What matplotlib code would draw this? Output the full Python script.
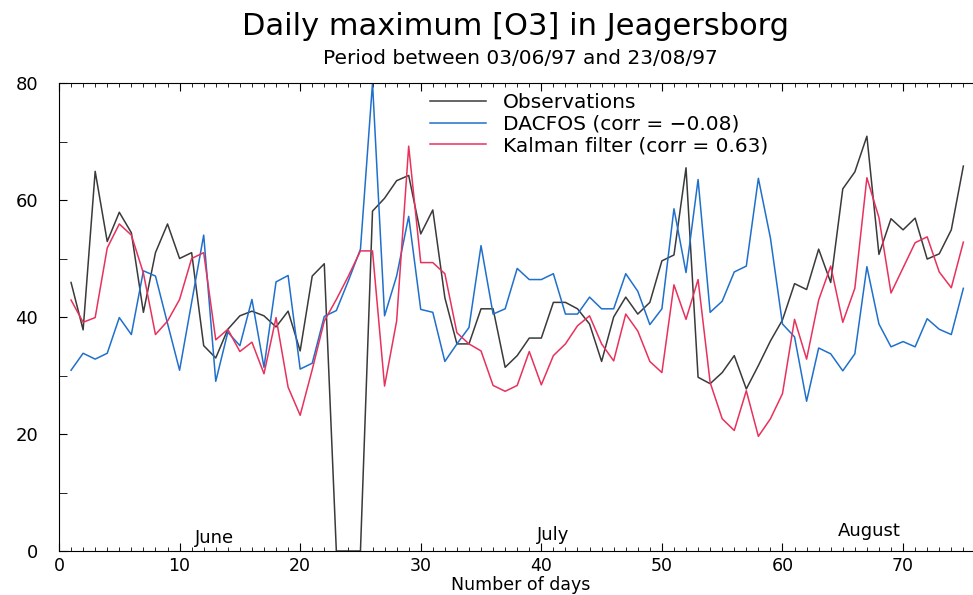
import numpy as np
import matplotlib.pyplot as plt
from matplotlib.ticker import MultipleLocator

plt.rcParams['font.family'] = ['DejaVu Sans']

# 数据 (days 1..75)
days = np.arange(1, 76)
obs = [45.9, 37.8, 64.9, 52.9, 57.9, 54.4, 40.8, 51.0, 55.9, 50.0,
       51.0, 35.1, 33.0, 37.9, 40.2, 41.0, 40.2, 38.3, 41.0, 34.2,
       47.0, 49.1, 0.0, 0.0, 0.0, 58.1, 60.3, 63.3, 64.2, 54.2,
       58.3, 43.3, 35.4, 35.4, 41.4, 41.4, 31.4, 33.4, 36.4, 36.4,
       42.5, 42.5, 41.4, 38.8, 32.4, 40.0, 43.4, 40.5, 42.5, 49.6,
       50.6, 65.5, 29.7, 28.6, 30.5, 33.4, 27.7, 31.7, 35.9, 39.5,
       45.7, 44.7, 51.6, 45.9, 61.9, 64.8, 70.9, 50.7, 56.8, 54.9,
       56.9, 49.9, 50.8, 54.9, 65.8]
dacfos = [30.9, 33.8, 32.8, 33.8, 39.9, 37.0, 47.9, 47.0, 38.9, 30.9,
          42.5, 54.0, 29.0, 37.4, 35.1, 43.0, 31.4, 46.0, 47.1, 31.1,
          32.1, 40.1, 41.1, 46.2, 51.6, 80.0, 40.2, 47.0, 57.2, 41.3,
          40.8, 32.4, 35.4, 38.2, 52.2, 40.5, 41.4, 48.3, 46.4, 46.4,
          47.4, 40.5, 40.5, 43.4, 41.4, 41.4, 47.4, 44.4, 38.7, 41.4,
          58.5, 47.6, 63.5, 40.8, 42.7, 47.7, 48.7, 63.7, 53.5, 38.8,
          36.6, 25.6, 34.7, 33.7, 30.8, 33.7, 48.6, 38.8, 34.9, 35.8,
          34.9, 39.7, 37.9, 37.0, 44.9]
kalman = [42.9, 39.1, 39.9, 51.8, 55.9, 54.0, 47.5, 37.0, 39.3, 43.0,
          50.0, 51.0, 36.1, 37.9, 34.1, 35.7, 30.3, 39.9, 28.0, 23.2,
          31.0, 39.3, 43.0, 47.0, 51.3, 51.3, 28.2, 39.3, 69.2, 49.3,
          49.3, 47.4, 37.3, 35.4, 34.2, 28.3, 27.3, 28.3, 34.1, 28.4,
          33.4, 35.4, 38.5, 40.2, 35.4, 32.5, 40.5, 37.6, 32.4, 30.5,
          45.5, 39.6, 46.4, 28.8, 22.6, 20.6, 27.4, 19.6, 22.6, 26.9,
          39.6, 32.8, 42.9, 48.7, 39.1, 44.9, 63.8, 57.0, 44.1, 48.4,
          52.7, 53.7, 47.7, 45.0, 52.8]
labels = ['Observations', 'DACFOS (corr = \u22120.08)', 'Kalman filter (corr = 0.63)']
colors = ['#3a3a3a', '#1f70cc', '#e8315c']
months = ['June', 'July', 'August']
month_pos = [(12.9, 2.2), (41.0, 2.7), (67.2, 3.5)]

fig = plt.figure(figsize=(9.73, 5.95), dpi=100)
ax = fig.add_axes([59 / 973, 1 - 551 / 595, 1 - 59 / 973, (551 - 83) / 595])

for ser, lab, col in zip([obs, dacfos, kalman], labels, colors):
    ax.plot(days, ser, color=col, lw=1.1, label=lab)

ax.set_xlim(0, 75.8)
ax.set_ylim(0, 80)
ax.spines['right'].set_visible(False)
ax.xaxis.set_major_locator(MultipleLocator(10))
ax.xaxis.set_minor_locator(MultipleLocator(1))
ax.yaxis.set_major_locator(MultipleLocator(20))
ax.yaxis.set_minor_locator(MultipleLocator(10))
ax.tick_params(axis='x', which='both', direction='in', top=True, labelsize=12.5, pad=4)
ax.tick_params(axis='x', which='major', length=6)
ax.tick_params(axis='x', which='minor', length=3)
ax.tick_params(axis='y', which='both', direction='in', length=6, labelsize=13, pad=15)

for m, (mx, my) in zip(months, month_pos):
    ax.text(mx, my, m, fontsize=13, ha='center', va='center')

ax.set_xlabel('Number of days', fontsize=12.5, va='bottom')
ax.xaxis.set_label_coords(0.505, -0.0925)

leg = ax.legend(loc='upper left', bbox_to_anchor=(0.406, 0.978), frameon=False,
                fontsize=14.5, handlelength=2.8, handletextpad=0.8,
                labelspacing=0.12, borderpad=0, borderaxespad=0)

fig.text(0.53, 0.955, 'Daily maximum [O3] in Jeagersborg', fontsize=22, ha='center', va='center')
fig.text(0.535, 0.902, 'Period between 03/06/97 and 23/08/97', fontsize=14.5, ha='center', va='center')

fig.savefig('out.png', dpi=100)
